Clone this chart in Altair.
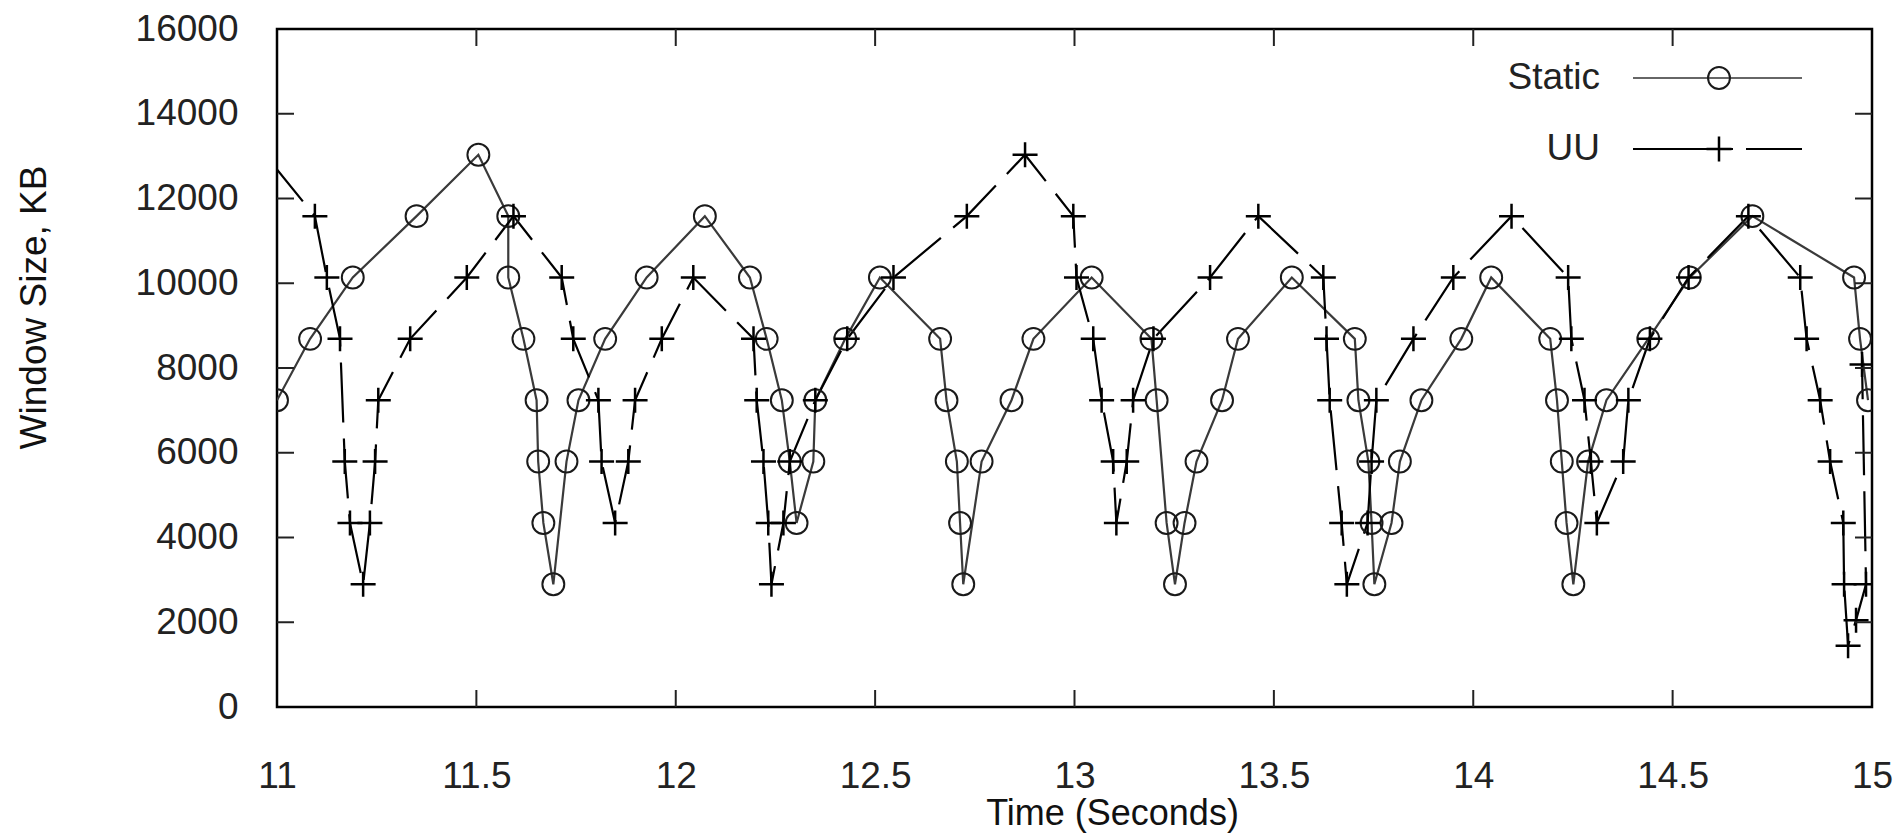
import altair as alt
import pandas as pd

# ---- data (Time in s, Window Size in KB) ----
static_t = [11.00, 11.083, 11.19, 11.35, 11.505, 11.58, 11.58, 11.618, 11.651, 11.655,
            11.668, 11.693, 11.726, 11.756, 11.823, 11.927, 12.073, 12.186, 12.228, 12.266,
            12.286, 12.303, 12.345, 12.35, 12.425, 12.512, 12.663, 12.679, 12.705, 12.713,
            12.721, 12.767, 12.842, 12.897, 13.043, 13.193, 13.206, 13.231, 13.252, 13.276,
            13.306, 13.37, 13.41, 13.545, 13.703, 13.712, 13.737, 13.745, 13.752, 13.795,
            13.816, 13.87, 13.97, 14.045, 14.193, 14.21, 14.222, 14.234, 14.251, 14.288,
            14.334, 14.439, 14.543, 14.70, 14.955, 14.97, 14.99]
static_kb = [7240, 8688, 10136, 11584, 13032, 11584, 10136, 8688, 7240, 5792,
             4344, 2896, 5792, 7240, 8688, 10136, 11584, 10136, 8688, 7240,
             5792, 4344, 5792, 7240, 8688, 10136, 8688, 7240, 5792, 4344,
             2896, 5792, 7240, 8688, 10136, 8688, 7240, 4344, 2896, 4344,
             5792, 7240, 8688, 10136, 8688, 7240, 5792, 4344, 2896, 4344,
             5792, 7240, 8688, 10136, 8688, 7240, 5792, 4344, 2896, 5792,
             7240, 8688, 10136, 11584, 10136, 8688, 7240]

uu_t = [10.97, 11.095, 11.125, 11.158, 11.17, 11.183, 11.216, 11.233, 11.246, 11.254,
        11.334, 11.476, 11.593, 11.714, 11.743, 11.806, 11.814, 11.848, 11.881, 11.898,
        11.965, 12.044, 12.195, 12.203, 12.22, 12.232, 12.24, 12.27, 12.286, 12.35,
        12.43, 12.546, 12.73, 12.876, 12.997, 13.005, 13.047, 13.068, 13.097, 13.105,
        13.131, 13.147, 13.198, 13.34, 13.461, 13.624, 13.632, 13.64, 13.67, 13.683,
        13.735, 13.745, 13.757, 13.85, 13.95, 14.096, 14.238, 14.246, 14.279, 14.295,
        14.31, 14.376, 14.389, 14.443, 14.54, 14.69, 14.82, 14.836, 14.87, 14.895,
        14.928, 14.93, 14.94, 14.96, 14.985, 14.975]
uu_kb = [13032, 11584, 10136, 8688, 5792, 4344, 2896, 4344, 5792, 7240,
         8688, 10136, 11584, 10136, 8688, 7240, 5792, 4344, 5792, 7240,
         8688, 10136, 8688, 7240, 5792, 4344, 2896, 4344, 5792, 7240,
         8688, 10136, 11584, 13032, 11584, 10136, 8688, 7240, 5792, 4344,
         5792, 7240, 8688, 10136, 11584, 10136, 8688, 7240, 4344, 2896,
         4344, 5792, 7240, 8688, 10136, 11584, 10136, 8688, 7240, 5792,
         4344, 5792, 7240, 8688, 10136, 11584, 10136, 8688, 7240, 5792,
         4344, 2896, 1448, 2050, 2896, 8080]

x_ticks = [11, 11.5, 12, 12.5, 13, 13.5, 14, 14.5, 15]
y_ticks = [0, 2000, 4000, 6000, 8000, 10000, 12000, 14000, 16000]
series_names = ["Static", "UU"]

# ---- layout ----
W, H = 1595, 678
FONT = "Liberation Sans"
FS = 37
TICK = 17
PLUS = "M-1,0L1,0M0,-1L0,1"

static_df = pd.DataFrame({"t": static_t, "kb": static_kb, "i": range(len(static_t))})
uu_df = pd.DataFrame({"t": uu_t, "kb": uu_kb, "i": range(len(uu_t))})
xt_df = pd.DataFrame({"t": x_ticks[1:-1]})
yt_df = pd.DataFrame({"kb": y_ticks[1:-1]})

xs = alt.Scale(domain=[x_ticks[0], x_ticks[-1]], nice=False, zero=False)
ys = alt.Scale(domain=[y_ticks[0], y_ticks[-1]], nice=False)

xaxis = alt.Axis(values=x_ticks, format="~g", grid=False, domain=False, ticks=False,
                 tickSize=0, labelPadding=51, labelFont=FONT, labelFontSize=FS,
                 labelColor="#222", labelFlush=False, labelOverlap=False,
                 title="Time (Seconds)", titleFont=FONT, titleFontSize=36,
                 titleFontWeight="normal", titleColor="#111", titleX=835, titleY=117,
                 titleAlign="center", titleBaseline="alphabetic")
yaxis = alt.Axis(values=y_ticks, format="d", grid=False, domain=False, ticks=False,
                 tickSize=0, labelPadding=39, labelFont=FONT, labelFontSize=FS,
                 labelColor="#222", labelFlush=False, labelOverlap=False,
                 title="Window Size, KB", titleFont=FONT, titleFontSize=FS,
                 titleFontWeight="normal", titleColor="#111", titleX=-232, titleY=278,
                 titleAngle=270, titleAlign="center", titleBaseline="alphabetic")

X = alt.X("t:Q", scale=xs, axis=xaxis)
Y = alt.Y("kb:Q", scale=ys, axis=yaxis)

static_line = alt.Chart(static_df).mark_line(color="#3a3a3a", strokeWidth=2.2, clip=True).encode(
    x=X, y=Y, order="i:Q")
static_pts = alt.Chart(static_df).mark_point(shape="circle", size=480, filled=False,
                                             color="#1a1a1a", strokeWidth=2, opacity=1,
                                             clip=True).encode(x=X, y=Y)
uu_line = alt.Chart(uu_df).mark_line(color="#000", strokeWidth=2.2, strokeDash=[60, 16],
                                     clip=True).encode(x=X, y=Y, order="i:Q")
uu_pts = alt.Chart(uu_df).mark_point(shape=PLUS, size=625, filled=False, color="#000",
                                     strokeWidth=2.5, opacity=1, clip=True).encode(x=X, y=Y)

tick_style = dict(color="#222", strokeWidth=2)
xt_bottom = alt.Chart(xt_df).mark_rule(**tick_style).encode(
    x=X, y=alt.value(H), y2=alt.value(H - TICK))
xt_top = alt.Chart(xt_df).mark_rule(**tick_style).encode(
    x=X, y=alt.value(0), y2=alt.value(TICK))
yt_left = alt.Chart(yt_df).mark_rule(**tick_style).encode(
    y=Y, x=alt.value(0), x2=alt.value(TICK))
yt_right = alt.Chart(yt_df).mark_rule(**tick_style).encode(
    y=Y, x=alt.value(W - TICK), x2=alt.value(W))

# ---- legend (gnuplot style, inside the plot, top right) ----
leg_static = pd.DataFrame({"name": [series_names[0]]})
leg_uu = pd.DataFrame({"name": [series_names[1]]})
LX_TEXT, LX0, LX1, LXM = 1323, 1356, 1525, 1442
LY_S, LY_U = 49, 120

leg = [
    alt.Chart(leg_static).mark_text(font=FONT, fontSize=FS, align="right",
                                    baseline="middle", color="#222").encode(
        text="name:N", x=alt.value(LX_TEXT), y=alt.value(LY_S)),
    alt.Chart(leg_static).mark_rule(color="#666", strokeWidth=2.2).encode(
        x=alt.value(LX0), x2=alt.value(LX1), y=alt.value(LY_S)),
    alt.Chart(leg_static).mark_point(shape="circle", size=480, filled=False, color="#1a1a1a",
                                     strokeWidth=2, opacity=1).encode(
        x=alt.value(LXM), y=alt.value(LY_S)),
    alt.Chart(leg_uu).mark_text(font=FONT, fontSize=FS, align="right",
                                baseline="middle", color="#222").encode(
        text="name:N", x=alt.value(LX_TEXT), y=alt.value(LY_U)),
    alt.Chart(leg_uu).mark_rule(color="#000", strokeWidth=2.2, strokeDash=[100, 13]).encode(
        x=alt.value(LX0), x2=alt.value(LX1), y=alt.value(LY_U)),
    alt.Chart(leg_uu).mark_point(shape=PLUS, size=625, filled=False, color="#000",
                                 strokeWidth=2.5, opacity=1).encode(
        x=alt.value(LXM), y=alt.value(LY_U)),
]

chart = alt.layer(static_line, uu_line, static_pts, uu_pts,
                  xt_bottom, xt_top, yt_left, yt_right, *leg).properties(
    width=W, height=H,
    autosize=alt.AutoSizeParams(type="none"),
    padding={"left": 277, "top": 29, "right": 29, "bottom": 127},
    background="white",
).configure_view(stroke="#000", strokeWidth=2.5)

chart.save("out.html", embed_options={"renderer": "svg", "actions": False})
